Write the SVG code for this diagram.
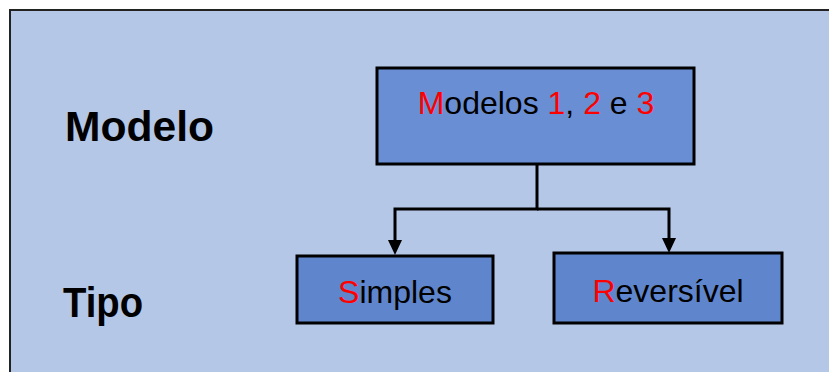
<svg xmlns="http://www.w3.org/2000/svg" width="829" height="372" viewBox="0 0 829 372">
<style>
.box{stroke:#000;stroke-width:3}
.t{font-family:"Liberation Sans",Arial,sans-serif;font-size:32px;fill:#000}
.r{fill:#ff0000}
.lbl{font-family:"Liberation Sans",Arial,sans-serif;font-size:43px;font-weight:bold;fill:#000}
.con{stroke:#000;stroke-width:3;fill:none}
</style>
<rect width="829" height="372" fill="#fff"/>
<rect x="10" y="10" width="840" height="380" fill="#B4C7E7" stroke="#222" stroke-width="2"/>
<g id="label-modelo"><text class="lbl" x="65" y="141" textLength="149" lengthAdjust="spacingAndGlyphs">Modelo</text></g>
<g id="label-tipo"><text class="lbl" x="63" y="317" textLength="80" lengthAdjust="spacingAndGlyphs">Tipo</text></g>
<g id="connectors">
<path class="con" d="M537,164 V209 H395 V241"/>
<path class="con" d="M537,209 H669 V239"/>
<path d="M388,240 L402,240 L395,255 Z" fill="#000"/>
<path d="M662,238 L676,238 L669,253 Z" fill="#000"/>
</g>
<g id="node-modelos">
<rect class="box" x="377" y="68" width="317" height="96" fill="#6A8ED4"/>
<text class="t" x="536" y="114" text-anchor="middle" font-size="33.5"><tspan class="r">M</tspan>odelos <tspan class="r">1</tspan>, <tspan class="r">2</tspan> e <tspan class="r">3</tspan></text>
</g>
<g id="node-simples">
<rect class="box" x="297" y="256" width="196" height="67" fill="#5F86CC"/>
<text class="t" x="395" y="303" text-anchor="middle"><tspan class="r">S</tspan>imples</text>
</g>
<g id="node-reversivel">
<rect class="box" x="554" y="253" width="228" height="70" fill="#5F86CC"/>
<text class="t" x="668" y="302" text-anchor="middle"><tspan class="r">R</tspan>eversível</text>
</g>
</svg>
